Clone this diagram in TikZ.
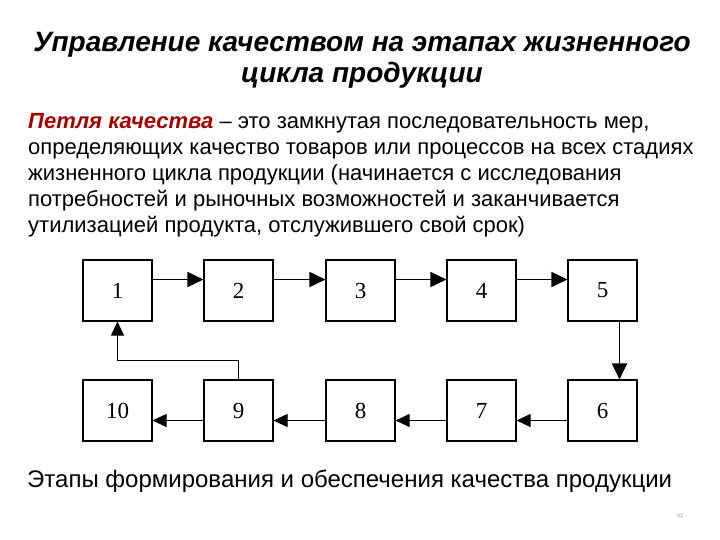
\documentclass[tikz,border=0pt]{standalone}
\usepackage{fontspec}
\setmainfont{Liberation Sans}
\newfontfamily\numfont{Liberation Serif}
\usetikzlibrary{arrows.meta}
\definecolor{loopred}{RGB}{165,0,0}

\begin{document}
\begin{tikzpicture}[
  x=1pt, y=-1pt,
  box/.style={rectangle, draw, line width=1.1pt,
              minimum width=69pt, minimum height=61pt,
              font=\numfont\fontsize{23}{23}\selectfont},
  arr/.style={-{Triangle[length=16pt,width=15pt]}, line width=1.8pt},
  thinarr/.style={-{Triangle[length=14pt,width=13pt]}, line width=0.9pt}
]
  \useasboundingbox (0,0) rectangle (720,540);

  \node[font=\bfseries\itshape\fontsize{28}{31}\selectfont, align=center]
    (title) at (362,60) {Управление качеством на этапах жизненного\\цикла продукции};

  \node[font=\fontsize{22}{26}\selectfont, align=left, anchor=north west, inner sep=0pt]
    (def) at (28,113) {{\color{loopred}\bfseries\itshape Петля качества} -- это замкнутая последовательность мер,\\
    определяющих качество товаров или процессов на всех стадиях\\
    жизненного цикла продукции (начинается с исследования\\
    потребностей и рыночных возможностей и заканчивается\\
    утилизацией продукта, отслужившего свой срок)};

  \node[box] (b1)  at (117.5,290.5) {1};
  \node[box] (b2)  at (238.5,290.5) {2};
  \node[box] (b3)  at (360.5,290.5) {3};
  \node[box] (b4)  at (481.5,290.5) {4};
  \node[box] (b5)  at (602.5,290.5) {5};
  \node[box] (b10) at (117.5,410.5) {10};
  \node[box] (b9)  at (238.5,410.5) {9};
  \node[box] (b8)  at (360.5,410.5) {8};
  \node[box] (b7)  at (481.5,410.5) {7};
  \node[box] (b6)  at (602.5,410.5) {6};
  \coordinate (back) at (0,360);

  \draw[arr] ([yshift=11pt]b1.east) -- ([yshift=11pt]b2.west);
  \draw[arr] ([yshift=11pt]b2.east) -- ([yshift=11pt]b3.west);
  \draw[arr] ([yshift=11pt]b3.east) -- ([yshift=11pt]b4.west);
  \draw[arr] ([yshift=11pt]b4.east) -- ([yshift=11pt]b5.west);
  \draw[arr] ([xshift=17pt]b5.south) -- ([xshift=17pt]b6.north);
  \draw[thinarr] ([yshift=-10pt]b6.west) -- ([yshift=-10pt]b7.east);
  \draw[thinarr] ([yshift=-10pt]b7.west) -- ([yshift=-10pt]b8.east);
  \draw[thinarr] ([yshift=-10pt]b8.west) -- ([yshift=-10pt]b9.east);
  \draw[thinarr] ([yshift=-10pt]b9.west) -- ([yshift=-10pt]b10.east);
  \draw[thinarr] (b9.north) -- (b9.north |- back) -- (b1.south |- back) -- (b1.south);

  \node[font=\fontsize{24}{28}\selectfont, anchor=west, inner sep=0pt]
    (stages) at (27,481) {Этапы формирования и обеспечения качества продукции};
  \node[font=\fontsize{5}{6}\selectfont, text=gray] (page) at (680,516) {33};
\end{tikzpicture}
\end{document}
